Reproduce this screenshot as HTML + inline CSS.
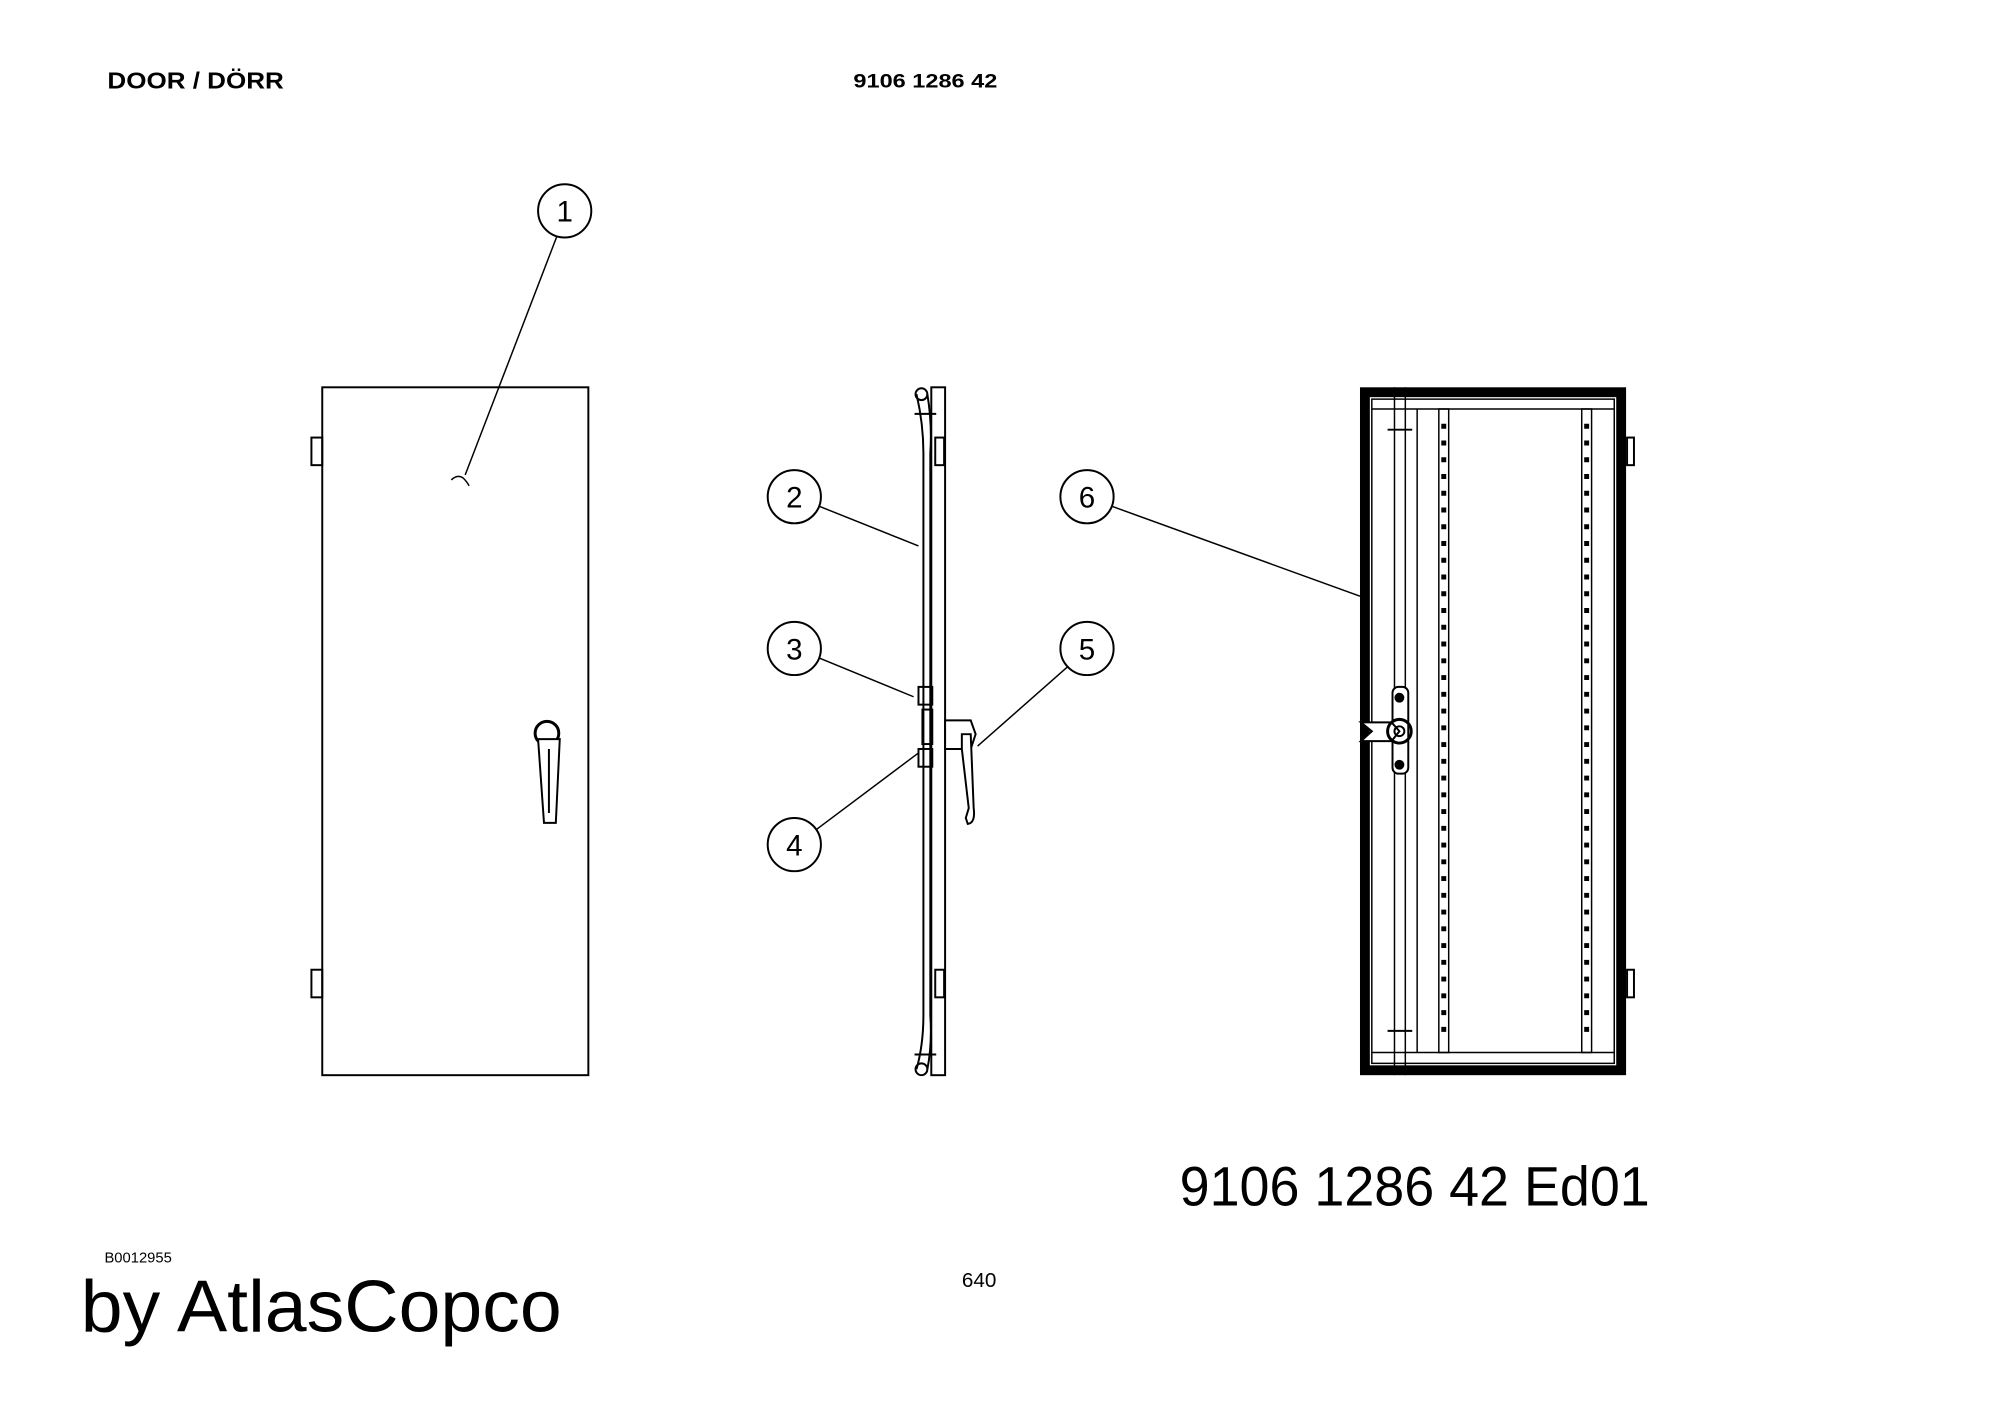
<!DOCTYPE html>
<html><head><meta charset="utf-8"><style>
html,body{margin:0;padding:0;background:#fff}
svg{display:block}
text{font-family:"Liberation Sans",sans-serif;fill:#000}
</style></head><body>
<svg width="2000" height="1414" viewBox="0 0 2000 1414" xmlns="http://www.w3.org/2000/svg">
<g transform="scale(0.9855)">
<text x="109" y="90" font-size="23" font-weight="bold" textLength="179" lengthAdjust="spacingAndGlyphs">DOOR / DÖRR</text>
<text x="866" y="89" font-size="20" font-weight="bold" textLength="146" lengthAdjust="spacingAndGlyphs">9106 1286 42</text>

<g fill="none" stroke="#000" stroke-width="2">
<!-- door 1 -->
<rect x="327" y="393" width="270" height="698"/>
<rect x="316" y="444" width="11" height="28"/>
<rect x="316" y="984" width="11" height="28"/>
<circle cx="555" cy="744" r="12" stroke-width="3"/>
<path d="M546 750 L552 835 L564 835 L568 750 Z" fill="#fff"/>
<line x1="557" y1="760" x2="557" y2="825"/>
<circle cx="573" cy="214" r="27"/>
<line x1="565" y1="240" x2="472" y2="482" stroke-width="1.5"/>
<path d="M458 487 q6 -6 12 -2 q4 4 6 8" stroke-width="1.5"/>

<!-- side view -->
<rect x="945" y="393" width="14" height="698"/>
<path d="M930 400 Q937 430 937 460 L937 1030 Q937 1060 930 1085" />
<path d="M941 400 Q946 430 944 460 L944 1030 Q946 1060 941 1085" />
<circle cx="935" cy="400" r="6"/><circle cx="935" cy="1085" r="6"/>
<rect x="949" y="444" width="9" height="28"/>
<rect x="949" y="984" width="9" height="28"/>
<line x1="928" y1="420" x2="950" y2="420"/><line x1="928" y1="1070" x2="950" y2="1070"/>
<rect x="932" y="697" width="14" height="18"/>
<rect x="932" y="760" width="14" height="18"/>
<rect x="936" y="720" width="10" height="35"/>
<path d="M959 731 L985 731 L990 745 L985 760 L959 760 Z" fill="#fff"/>
<path d="M976 745 L985 745 L988 820 Q990 835 982 836 L980 830 L983 820 L976 760 Z" fill="#fff"/>
<circle cx="806" cy="504" r="27"/><circle cx="806" cy="658" r="27"/>
<circle cx="806" cy="857" r="27"/><circle cx="1103" cy="658" r="27"/>
<circle cx="1103" cy="504" r="27"/>
<g stroke-width="1.5">
<line x1="832" y1="514" x2="932" y2="554"/>
<line x1="832" y1="668" x2="927" y2="707"/>
<line x1="828" y1="842" x2="932" y2="764"/>
<line x1="1084" y1="676" x2="992" y2="757"/>
<line x1="1129" y1="514" x2="1380" y2="605"/>
</g>

<!-- back view -->
<rect x="1385" y="398" width="260" height="688" stroke-width="10"/>
<rect x="1392" y="405" width="246" height="674" stroke-width="1.5"/>
<line x1="1392" y1="415" x2="1638" y2="415" stroke-width="1.5"/>
<line x1="1392" y1="1068" x2="1638" y2="1068" stroke-width="1.5"/>
<line x1="1415" y1="393" x2="1415" y2="1091" stroke-width="1.5"/>
<line x1="1426" y1="393" x2="1426" y2="1091" stroke-width="1.5"/>
<line x1="1438" y1="415" x2="1438" y2="1068" stroke-width="1.5"/>
<rect x="1460" y="415" width="10" height="653" stroke-width="1.5"/>
<rect x="1605" y="415" width="10" height="653" stroke-width="1.5"/>
<line x1="1408" y1="436" x2="1433" y2="436"/><line x1="1408" y1="1046" x2="1433" y2="1046"/>
<rect x="1651" y="444" width="7" height="28"/><rect x="1651" y="984" width="7" height="28"/>
<rect x="1413" y="697" width="16" height="88" rx="6" fill="#fff"/>
<path d="M1381 733 L1412 733 L1420 742 L1412 752 L1381 752 L1392 742 Z" fill="#fff"/>
<circle cx="1420" cy="742" r="12" stroke-width="3"/><circle cx="1420" cy="742" r="5"/>
</g>
<g fill="#000">
<circle cx="1420" cy="708" r="5"/><circle cx="1420" cy="776" r="5"/>
</g>
<path d="M1465 430 V1055 M1610 430 V1055" stroke="#000" stroke-width="5" stroke-dasharray="5 12" fill="none"/>

<g font-family="Liberation Sans, sans-serif" font-size="30" text-anchor="middle">
<text x="573" y="225">1</text><text x="806" y="515">2</text><text x="806" y="669">3</text>
<text x="806" y="868">4</text><text x="1103" y="669">5</text><text x="1103" y="515">6</text>
</g>

<text x="1197" y="1223" font-size="56" textLength="477" lengthAdjust="spacingAndGlyphs">9106 1286 42  Ed01</text>
<text x="106" y="1281" font-size="15">B0012955</text>
<text x="976" y="1306" font-size="21">640</text>
<text x="82" y="1351" font-size="74" textLength="488" lengthAdjust="spacingAndGlyphs">by AtlasCopco</text>
</g>
</svg>
</body></html>
